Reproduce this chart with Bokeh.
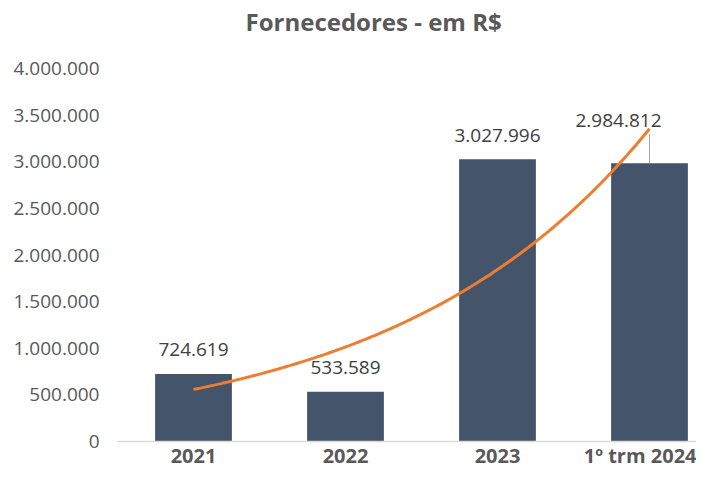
import numpy as np
from bokeh.plotting import figure
from bokeh.models import (ColumnDataSource, LabelSet, Range1d, FixedTicker,
                          CustomJSTickFormatter, Title)
from bokeh.core.properties import value
from bokeh.embed import file_html
from bokeh.resources import INLINE

title_text = "Fornecedores - em R$"
categories = ["2021", "2022", "2023", "1º trm 2024"]
values = [724619, 533589, 3027996, 2984812]
value_labels = ["724.619", "533.589", "3.027.996", "2.984.812"]
y_ticks = [0, 500000, 1000000, 1500000, 2000000, 2500000, 3000000, 3500000, 4000000]

xs = [1, 2, 3, 4]
FONT = "Open Sans"

W, H = 696, 471
TOP, BOTTOM, LEFT = 68, 30, 117
frame_h = H - TOP - BOTTOM
frame_w = W - LEFT
units_per_px = 4000000 / frame_h

p = figure(width=W, height=H, output_backend="svg", toolbar_location=None,
           x_range=Range1d(0.5, 0.5 + frame_w / 152.0),
           y_range=Range1d(0, 4000000),
           min_border_top=TOP, min_border_bottom=BOTTOM,
           min_border_left=LEFT, min_border_right=0,
           title=title_text)
p.outline_line_color = None
p.background_fill_color = "white"
p.border_fill_color = "white"
p.grid.visible = False

p.title.text_font = FONT
p.title.text_font_size = "24px"
p.title.text_font_style = "bold"
p.title.text_color = "#595959"
p.title.align = "left"
p.title.offset = 128
p.title.standoff = 0

# blank spacer between title and plot area
p.add_layout(Title(text=" ", text_font=FONT, text_font_size="20px", standoff=2), "above")

src = ColumnDataSource(dict(x=xs, top=values, lab=value_labels))
p.vbar(x="x", top="top", width=0.505, bottom=0, source=src,
       fill_color="#44546A", line_color=None)

# exponential trendline fitted to the data
coef = np.polyfit(xs, np.log(values), 1)
tx = np.linspace(1, 4, 200)
ty = np.exp(np.polyval(coef, tx))
p.line(tx, ty, line_color="#ED7D31", line_width=3)

# data labels (first three centred above bars)
src3 = ColumnDataSource(dict(x=xs[:3], y=values[:3], lab=value_labels[:3]))
p.add_layout(LabelSet(x="x", y="y", text="lab", source=src3, y_offset=24,
                      text_align="center", text_baseline="middle",
                      text_font=value(FONT), text_font_size=value("19px"),
                      text_color=value("#404040")))
# last label offset with leader line
src4 = ColumnDataSource(dict(x=xs[3:], y=values[3:], lab=value_labels[3:]))
p.add_layout(LabelSet(x="x", y="y", text="lab", source=src4, y_offset=43, x_offset=-31,
                      text_align="center", text_baseline="middle",
                      text_font=value(FONT), text_font_size=value("19px"),
                      text_color=value("#404040")))
p.segment(x0=[xs[3]], y0=[values[3]], x1=[xs[3]], y1=[values[3] + 29 * units_per_px],
          line_color="#A6A6A6", line_width=1)

# axes
p.yaxis.ticker = FixedTicker(ticks=y_ticks)
p.yaxis.formatter = CustomJSTickFormatter(code="""
return tick.toFixed(0).replace(/\\B(?=(\\d{3})+(?!\\d))/g, '.');
""")
p.yaxis.axis_line_color = None
p.yaxis.major_tick_line_color = None
p.yaxis.minor_tick_line_color = None
p.yaxis.major_tick_out = 0
p.yaxis.major_tick_in = 0
p.yaxis.major_label_standoff = 18
p.yaxis.major_label_text_font = FONT
p.yaxis.major_label_text_font_size = "19px"
p.yaxis.major_label_text_color = "#595959"

p.xaxis.ticker = FixedTicker(ticks=xs)
p.xaxis.major_label_overrides = {x: c for x, c in zip(xs, categories)}
p.xaxis.axis_line_color = "#D9D9D9"
p.xaxis.axis_line_width = 1.5
p.xaxis.major_tick_line_color = None
p.xaxis.minor_tick_line_color = None
p.xaxis.major_tick_out = 0
p.xaxis.major_tick_in = 0
p.xaxis.major_label_standoff = 0
p.xaxis.major_label_text_font = FONT
p.xaxis.major_label_text_font_size = "20px"
p.xaxis.major_label_text_font_style = "bold"
p.xaxis.major_label_text_color = "#595959"

open("out.html", "w").write(file_html(p, INLINE))
